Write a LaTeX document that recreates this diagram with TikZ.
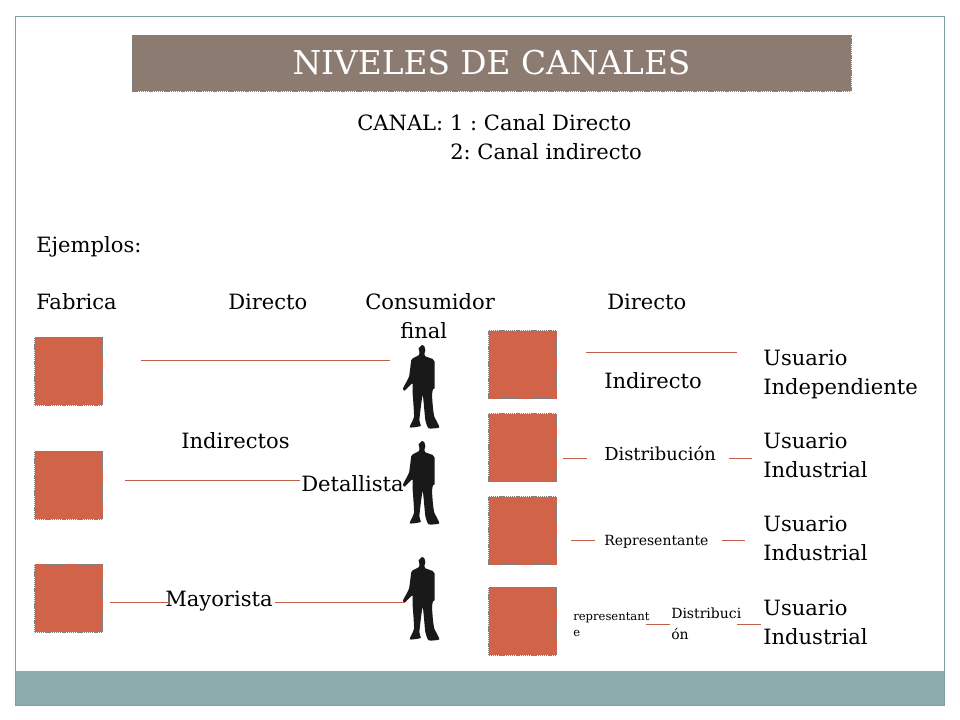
\documentclass[tikz,border=0pt]{standalone}
\usepackage{tikz}
\usepackage{fontspec}
\setmainfont{DejaVu Serif}
\definecolor{framecol}{HTML}{7F9FA0}
\definecolor{footcol}{HTML}{8CADAE}
\definecolor{titlecol}{HTML}{8C7B70}
\definecolor{boxcol}{HTML}{D16349}
\definecolor{linecol}{HTML}{C0604A}
\tikzset{man/.pic={
\fill[black!90,scale=1/3] plot[smooth cycle,tension=0.3] coordinates {(0,0) (7,4) (10,16) (7,27) (10,34) (32,42) (38,50) (38,90) (38,130) (33,133) (30,150) (33,190) (37,215) (52,247) (20,250) (10,225) (2,150) (-8,225) (-4,243) (-37,247) (-24,215) (-28,145) (-29,115) (-52,137) (-57,130) (-39,95) (-32,45) (-22,37) (-9,30) (-8,20) (-10,10)};
}}
\frenchspacing
\begin{document}
\begin{tikzpicture}[x=0.75pt,y=-0.75pt]
\tikzstyle{box}=[draw=black!50,dash pattern=on 1pt off 0.6pt,fill=boxcol,minimum size=51pt,inner sep=0pt,line width=0.4pt]
\tikzstyle{txt}=[anchor=base west,inner sep=0pt,align=left,font=\fontsize{15.8}{21.75}\selectfont]
\tikzstyle{small}=[anchor=base west,inner sep=0pt,align=left,font=\fontsize{10.5}{15.5}\selectfont]
\tikzstyle{tiny}=[anchor=base west,inner sep=0pt,align=left,font=\fontsize{8.7}{12}\selectfont]
\tikzstyle{link}=[draw=linecol,line width=0.75pt]
\useasboundingbox (0,0) rectangle (960,720);
\fill[white] (0,0) rectangle (960,720);
\fill[footcol] (15,671) rectangle (944,705);
\draw[framecol,line width=0.75pt] (15,17) rectangle (944,705);
\node[draw=black!50,dash pattern=on 1pt off 0.6pt,line width=0.4pt,fill=titlecol,minimum width=539pt,minimum height=42pt,inner sep=0pt,text=white,font=\fontsize{24.6}{30}\selectfont] (title) at (491.5,63) {NIVELES DE CANALES};
\node[txt] (canal) at (357,131) {CANAL: 1 : Canal Directo};
\node[txt] (canaldos) at (450,160) {2: Canal indirecto};
\node[txt] (ejemplos) at (36,253) {Ejemplos:};
\node[txt] (fabrica) at (36,310) {Fabrica};
\node[txt] (directo) at (228,310) {Directo};
\node[txt] (consumidor) at (365,310) {Consumidor};
\node[txt] (final) at (400,338) {final};
\node[txt] (directob) at (607,310) {Directo};
\node[txt] (indirectos) at (181,448) {Indirectos};
\node[txt] (detallista) at (301,491) {Detallista};
\node[txt] (mayorista) at (165,606) {Mayorista};
\node[txt] (indirecto) at (604,388) {Indirecto};
\node[small,font=\fontsize{13.4}{15.5}\selectfont] (distribucion) at (604,460) {Distribución};
\node[small] (representante) at (604,545) {Representante};
\node[tiny] (representantb) at (573,636) {representant\\e};
\node[small] (distribucib) at (671,639) {Distribuci\\ón};
\node[txt] (usuarioa) at (763,394) {Usuario\\Independiente};
\node[txt] (usuariob) at (763,477) {Usuario\\Industrial};
\node[txt] (usuarioc) at (763,560) {Usuario\\Industrial};
\node[txt] (usuariod) at (763,644) {Usuario\\Industrial};
\node[box] (fa) at (68.5,371) {};
\node[box] (fb) at (68.5,485) {};
\node[box] (fc) at (68.5,598) {};
\node[box] (ga) at (522.5,364.5) {};
\node[box] (gb) at (522.5,447.5) {};
\node[box] (gc) at (522.5,530.5) {};
\node[box] (gd) at (522.5,621) {};
\pic at (422,345) {man};
\pic at (422,441) {man};
\pic at (422,557) {man};
\coordinate (a0) at (141,360.5);
\coordinate (a1) at (390,360.5);
\coordinate (b0) at (125,480.5);
\coordinate (b1) at (300,480.5);
\coordinate (c0) at (110,602.5);
\coordinate (c1) at (170,602.5);
\coordinate (c2) at (275,602.5);
\coordinate (c3) at (405,602.5);
\coordinate (d0) at (586,352.5);
\coordinate (d1) at (737,352.5);
\coordinate (e0) at (563,458.5);
\coordinate (e1) at (587,458.5);
\coordinate (e2) at (729,458.5);
\coordinate (e3) at (752,458.5);
\coordinate (f0) at (571,540.5);
\coordinate (f1) at (595,540.5);
\coordinate (f2) at (722,540.5);
\coordinate (f3) at (745,540.5);
\coordinate (g0) at (646,624.5);
\coordinate (g1) at (670,624.5);
\coordinate (g2) at (737,624.5);
\coordinate (g3) at (761,624.5);
\draw[link] (a0) -- (a1);
\draw[link] (b0) -- (b1);
\draw[link] (c0) -- (c1);
\draw[link] (c2) -- (c3);
\draw[link] (d0) -- (d1);
\draw[link] (e0) -- (e1);
\draw[link] (e2) -- (e3);
\draw[link] (f0) -- (f1);
\draw[link] (f2) -- (f3);
\draw[link] (g0) -- (g1);
\draw[link] (g2) -- (g3);
\end{tikzpicture}
\end{document}
